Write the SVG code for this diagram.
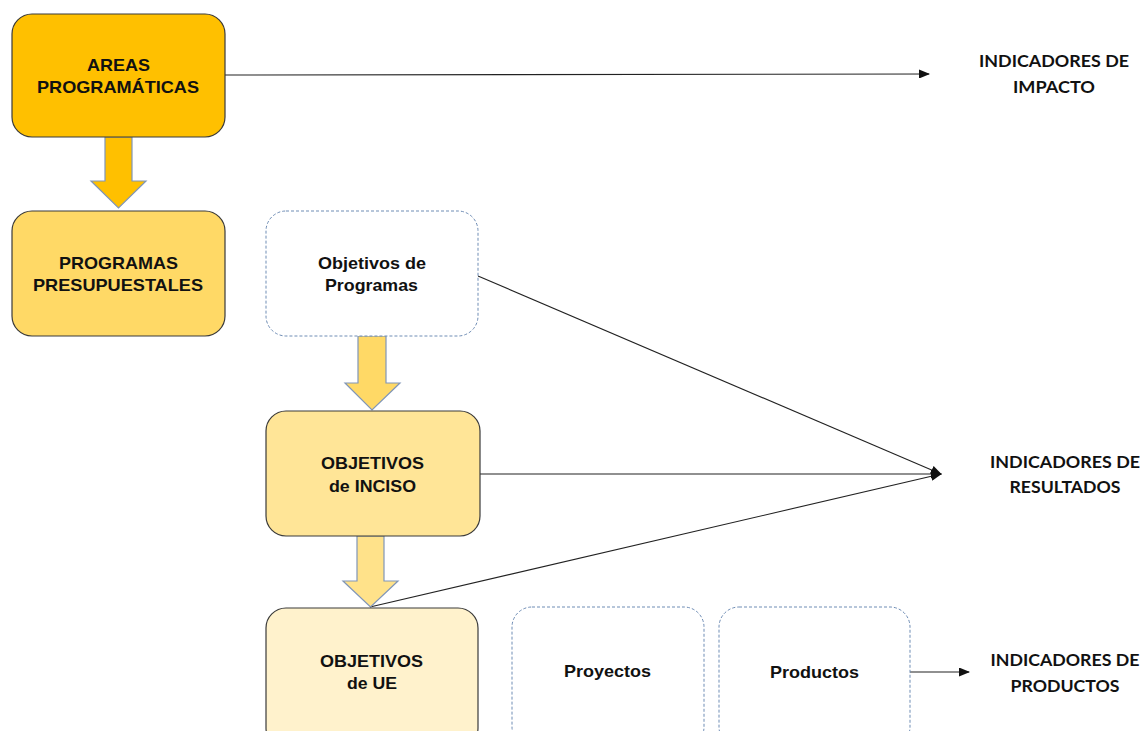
<svg xmlns="http://www.w3.org/2000/svg" width="1143" height="731" viewBox="0 0 1143 731">
<defs>
<style>
.box{stroke:#3a3a3a;stroke-width:1.2}
.dash{fill:#fff;stroke:#6f8db5;stroke-width:1;stroke-dasharray:3 2}
.blk{stroke:#8096b8;stroke-width:1.2}
.t{font-family:"Liberation Sans",Arial,sans-serif;font-weight:bold;font-size:17px;fill:#111;text-anchor:middle}
.lab{font-family:Lato,"Open Sans",sans-serif;font-weight:bold;font-size:17.5px;fill:#111;text-anchor:middle}
.ln{stroke:#222;stroke-width:1.1;fill:none}
</style>
<marker id="ah" markerWidth="11" markerHeight="9" refX="10" refY="4.5" orient="auto" markerUnits="userSpaceOnUse">
<path d="M0,0 L11,4.5 L0,9 Z" fill="#111"/>
</marker>
</defs>
<rect width="1143" height="731" fill="#fff"/>
<g id="connectors">
<line class="ln" x1="225" y1="75" x2="929" y2="74" marker-end="url(#ah)"/>
<line class="ln" x1="478" y1="276" x2="941" y2="474" marker-end="url(#ah)"/>
<line class="ln" x1="480" y1="474" x2="941" y2="474" marker-end="url(#ah)"/>
<line class="ln" x1="370" y1="607" x2="941" y2="474" marker-end="url(#ah)"/>
<line class="ln" x1="910" y1="672" x2="969" y2="672" marker-end="url(#ah)"/>
<path class="blk" fill="#FFC000" d="M105,137 L132,137 L132,181 L146,181 L118.5,208 L91,181 L105,181 Z"/>
<path class="blk" fill="#FFD966" d="M358,336 L386,336 L386,383 L400,383 L372,410 L345,383 L358,383 Z"/>
<path class="blk" fill="#FFE28A" d="M357,536 L384,536 L384,581 L398,581 L370.5,607 L343,581 L357,581 Z"/>
</g>
<g id="areas">
<rect class="box" x="12" y="14" width="213" height="123" rx="20" fill="#FFC000"/>
<text class="t" x="118.5" y="71" textLength="63" lengthAdjust="spacingAndGlyphs">AREAS</text>
<text class="t" x="118" y="93" textLength="162" lengthAdjust="spacingAndGlyphs">PROGRAMÁTICAS</text>
</g>
<g id="programas">
<rect class="box" x="12" y="211" width="213" height="125" rx="20" fill="#FFD966"/>
<text class="t" x="118.5" y="269" textLength="119" lengthAdjust="spacingAndGlyphs">PROGRAMAS</text>
<text class="t" x="118" y="291" textLength="170" lengthAdjust="spacingAndGlyphs">PRESUPUESTALES</text>
</g>
<g id="objprog">
<rect class="dash" x="266" y="211" width="212" height="125" rx="20"/>
<text class="t" x="372" y="269" textLength="108" lengthAdjust="spacingAndGlyphs">Objetivos de</text>
<text class="t" x="371.5" y="291" textLength="93" lengthAdjust="spacingAndGlyphs">Programas</text>
</g>
<g id="inciso">
<rect class="box" x="266" y="411" width="214" height="125" rx="20" fill="#FFE597"/>
<text class="t" x="372.5" y="469" textLength="103" lengthAdjust="spacingAndGlyphs">OBJETIVOS</text>
<text class="t" x="372.5" y="492" textLength="87" lengthAdjust="spacingAndGlyphs">de INCISO</text>
</g>
<g id="ue">
<rect class="box" x="266" y="608" width="212" height="140" rx="20" fill="#FFF2CC"/>
<text class="t" x="371.5" y="667" textLength="103" lengthAdjust="spacingAndGlyphs">OBJETIVOS</text>
<text class="t" x="372" y="689" textLength="50" lengthAdjust="spacingAndGlyphs">de UE</text>
</g>
<g id="proyectos">
<rect class="dash" x="512" y="607" width="192" height="140" rx="20"/>
<text class="t" x="607.5" y="677" textLength="87" lengthAdjust="spacingAndGlyphs">Proyectos</text>
</g>
<g id="productos">
<rect class="dash" x="719" y="607" width="191" height="140" rx="20"/>
<text class="t" x="814.5" y="678" textLength="89" lengthAdjust="spacingAndGlyphs">Productos</text>
</g>
<g id="ind-impacto">
<text class="lab" x="1054" y="67" textLength="150" lengthAdjust="spacingAndGlyphs">INDICADORES DE</text>
<text class="lab" x="1054" y="93" textLength="82" lengthAdjust="spacingAndGlyphs">IMPACTO</text>
</g>
<g id="ind-resultados">
<text class="lab" x="1065" y="468" textLength="150" lengthAdjust="spacingAndGlyphs">INDICADORES DE</text>
<text class="lab" x="1065" y="493" textLength="111" lengthAdjust="spacingAndGlyphs">RESULTADOS</text>
</g>
<g id="ind-productos">
<text class="lab" x="1065" y="666" textLength="149" lengthAdjust="spacingAndGlyphs">INDICADORES DE</text>
<text class="lab" x="1065" y="692" textLength="109" lengthAdjust="spacingAndGlyphs">PRODUCTOS</text>
</g>
</svg>
